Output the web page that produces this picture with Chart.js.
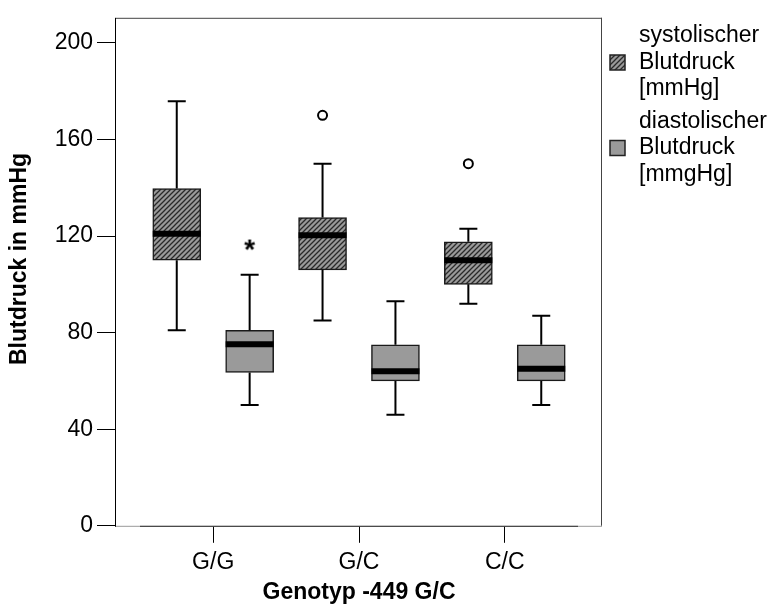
<!DOCTYPE html>
<html>
<head>
<meta charset="utf-8">
<script src="https://cdn.jsdelivr.net/npm/chart.js@4.4.1/dist/chart.umd.min.js"></script>
<style>
  body { margin: 0; background: #fff; }
  #wrap { width: 772px; height: 615px; }
</style>
</head>
<body>
<div id="wrap"><canvas id="boxChart"></canvas></div>
<script>
const genotypes = ["G/G", "G/C", "C/C"];
const yTicks = [0, 40, 80, 120, 160, 200];

// systolischer Blutdruck
const sysMin = [81, 85, 92];
const sysQ1 = [110, 106, 100];
const sysMedian = [121, 120.3, 110];
const sysQ3 = [139.7, 127.7, 117.6];
const sysMax = [175.8, 150, 123];
const sysOutliers = [null, 170, 150];

// diastolischer Blutdruck
const diaMin = [50, 46, 50];
const diaQ1 = [63.5, 60, 60];
const diaMedian = [75.2, 64, 65];
const diaQ3 = [81, 75, 75];
const diaMax = [104, 93, 87];
const diaExtremes = [116.5, null, null];

const legendLines = [
  ["systolischer", "Blutdruck", "[mmHg]"],
  ["diastolischer", "Blutdruck", "[mmgHg]"]
];

const FONT = "Arial, 'Liberation Sans', sans-serif";
const GRAY = "#9a9a9a";
const groupShift = 0.25;
const boxWidth = 48;
const capHalf = 9;

function makeHatch() {
  const c = document.createElement("canvas");
  c.width = 5; c.height = 5;
  const g = c.getContext("2d");
  g.fillStyle = GRAY;
  g.fillRect(0, 0, 5, 5);
  g.strokeStyle = "#2a2a2a";
  g.lineWidth = 1.3;
  g.beginPath();
  g.moveTo(-1, 6); g.lineTo(6, -1);
  g.moveTo(-1, 1); g.lineTo(1, -1);
  g.moveTo(4, 6); g.lineTo(6, 4);
  g.stroke();
  return g.createPattern(c, "repeat");
}

function makeStar() {
  const c = document.createElement("canvas");
  c.width = 20; c.height = 20;
  const g = c.getContext("2d");
  g.font = "bold 28px " + FONT;
  const m = g.measureText("*");
  const w = m.actualBoundingBoxLeft + m.actualBoundingBoxRight;
  const h = m.actualBoundingBoxAscent + m.actualBoundingBoxDescent;
  g.fillStyle = "#000";
  g.fillText("*", 10 - w / 2 + m.actualBoundingBoxLeft, 10 - h / 2 + m.actualBoundingBoxAscent);
  return c;
}

const hatch = makeHatch();
const starImg = makeStar();

const boxSeries = [
  { shift: -groupShift, min: sysMin, q1: sysQ1, med: sysMedian, q3: sysQ3, max: sysMax },
  { shift: groupShift, min: diaMin, q1: diaQ1, med: diaMedian, q3: diaQ3, max: diaMax }
];

// whiskers, caps and median bars
const boxPlotLines = {
  id: "boxPlotLines",
  afterDatasetsDraw(chart) {
    const { ctx, scales: { x, y } } = chart;
    ctx.save();
    ctx.strokeStyle = "#000";
    boxSeries.forEach((s) => {
      genotypes.forEach((g, i) => {
        const cx = x.getPixelForValue(i + 1 + s.shift);
        const yMin = y.getPixelForValue(s.min[i]);
        const yMax = y.getPixelForValue(s.max[i]);
        ctx.lineWidth = 2;
        ctx.beginPath();
        ctx.moveTo(cx, y.getPixelForValue(s.q3[i]));
        ctx.lineTo(cx, yMax);
        ctx.moveTo(cx, y.getPixelForValue(s.q1[i]));
        ctx.lineTo(cx, yMin);
        ctx.moveTo(cx - capHalf, yMax);
        ctx.lineTo(cx + capHalf, yMax);
        ctx.moveTo(cx - capHalf, yMin);
        ctx.lineTo(cx + capHalf, yMin);
        ctx.stroke();

        const yMed = y.getPixelForValue(s.med[i]);
        ctx.lineWidth = 6;
        ctx.beginPath();
        ctx.moveTo(cx - boxWidth / 2, yMed);
        ctx.lineTo(cx + boxWidth / 2, yMed);
        ctx.stroke();
      });
    });
    ctx.restore();
  }
};

// plot frame, y title and legend
const decorations = {
  id: "decorations",
  afterDraw(chart) {
    const { ctx, chartArea: a } = chart;
    ctx.save();
    ctx.lineWidth = 1;
    ctx.strokeStyle = "#444";
    ctx.beginPath();
    ctx.moveTo(a.left, a.top + 0.5);
    ctx.lineTo(a.right, a.top + 0.5);
    ctx.moveTo(a.right - 0.5, a.top);
    ctx.lineTo(a.right - 0.5, a.bottom);
    ctx.stroke();
    ctx.strokeStyle = "#000";
    ctx.beginPath();
    ctx.moveTo(a.left - 0.5, a.top);
    ctx.lineTo(a.left - 0.5, a.bottom + 1);
    ctx.stroke();
    ctx.strokeStyle = "#999";
    ctx.beginPath();
    ctx.moveTo(a.left, a.bottom + 0.5);
    ctx.lineTo(a.right, a.bottom + 0.5);
    ctx.stroke();
    ctx.strokeStyle = "#333";
    ctx.beginPath();
    ctx.moveTo(a.left + 24, a.bottom + 0.5);
    ctx.lineTo(a.right - 24, a.bottom + 0.5);
    ctx.stroke();

    // y axis title
    ctx.save();
    ctx.translate(20, 259);
    ctx.rotate(-Math.PI / 2);
    ctx.font = "bold 23px " + FONT;
    ctx.fillStyle = "#000";
    ctx.textAlign = "center";
    ctx.textBaseline = "middle";
    ctx.fillText("Blutdruck in mmHg", 0, 0);
    ctx.restore();

    // legend
    const fills = [hatch, GRAY];
    ctx.font = "23px " + FONT;
    ctx.textBaseline = "middle";
    ctx.textAlign = "left";
    legendLines.forEach((lines, k) => {
      const top = 36 + k * 85.5;
      ctx.fillStyle = "#000";
      lines.forEach((t, j) => ctx.fillText(t, a.right + 37, top + j * 26.5));
      const sy = top + 26.5 - 7.5;
      ctx.fillStyle = fills[k];
      ctx.fillRect(a.right + 8, sy, 15, 15);
      ctx.strokeStyle = "#222";
      ctx.lineWidth = 1.5;
      ctx.strokeRect(a.right + 8, sy, 15, 15);
    });
    ctx.restore();
  }
};

const boxDataset = (s, fill) => ({
  type: "bar",
  data: genotypes.map((g, i) => ({ x: i + 1 + s.shift, y: [s.q1[i], s.q3[i]] })),
  backgroundColor: fill,
  borderColor: "#1a1a1a",
  borderWidth: 1.5,
  borderSkipped: false,
  barThickness: boxWidth,
  grouped: false
});

const ctx = document.getElementById("boxChart").getContext("2d");
new Chart(ctx, {
  type: "bar",
  data: {
    datasets: [
      boxDataset(boxSeries[0], hatch),
      boxDataset(boxSeries[1], GRAY),
      {
        type: "scatter",
        data: sysOutliers.map((v, i) => ({ x: i + 1 - groupShift, y: v })).filter((p) => p.y !== null),
        pointStyle: "circle",
        radius: 4.5,
        borderWidth: 2,
        borderColor: "#000",
        backgroundColor: "#fff"
      },
      {
        type: "scatter",
        data: diaExtremes.map((v, i) => ({ x: i + 1 + groupShift, y: v })).filter((p) => p.y !== null),
        pointStyle: starImg,
        radius: 8
      }
    ]
  },
  options: {
    responsive: true,
    maintainAspectRatio: false,
    animation: false,
    devicePixelRatio: 1,
    layout: { padding: { left: 0, top: 11.4, right: 170, bottom: 0 } },
    plugins: { legend: { display: false }, tooltip: { enabled: false } },
    scales: {
      x: {
        type: "linear",
        min: 1 / 3,
        max: 11 / 3,
        offset: false,
        afterBuildTicks: (s) => { s.ticks = genotypes.map((g, i) => ({ value: i + 1 })); },
        afterFit: (s) => { s.height = 89.2; },
        ticks: {
          callback: (v, i) => genotypes[i],
          color: "#000",
          font: { family: FONT, size: 23 },
          padding: 6,
          maxRotation: 0,
          autoSkip: false
        },
        grid: { drawOnChartArea: false, offset: false, tickLength: 17, tickColor: "#000", tickWidth: 1 },
        border: { display: false },
        title: {
          display: true,
          text: "Genotyp -449 G/C",
          color: "#000",
          font: { family: FONT, size: 23, weight: "bold", lineHeight: 1.2 },
          padding: { top: 0, bottom: 9 }
        }
      },
      y: {
        min: 0,
        max: 210.4,
        afterBuildTicks: (s) => { s.ticks = yTicks.map((v) => ({ value: v })); },
        afterFit: (s) => { s.width = 116; },
        ticks: {
          color: "#000",
          font: { family: FONT, size: 23 },
          padding: 4
        },
        grid: { drawOnChartArea: false, tickLength: 19, tickColor: "#000", tickWidth: 1 },
        border: { display: false }
      }
    }
  },
  plugins: [boxPlotLines, decorations]
});
</script>
</body>
</html>
